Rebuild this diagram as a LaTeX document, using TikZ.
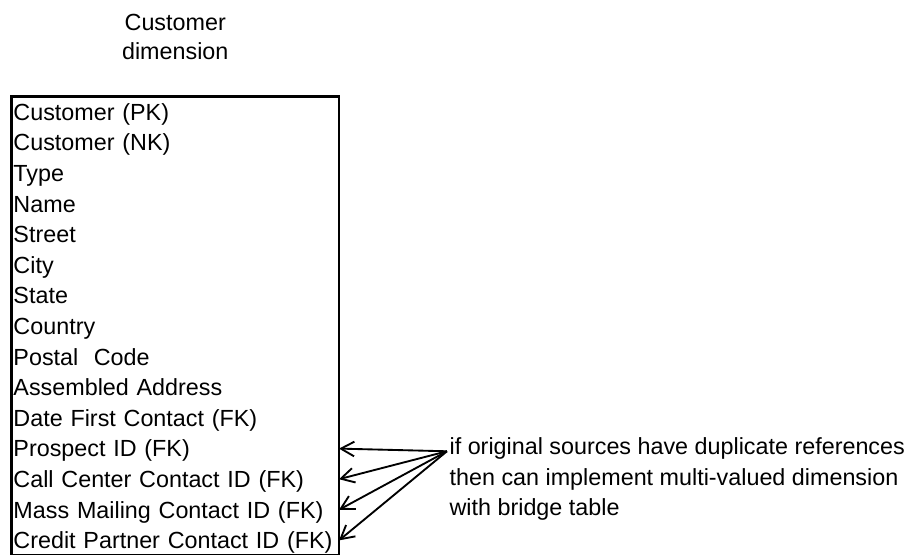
\documentclass[tikz,border=0pt]{standalone}
\usepackage{fontspec}
\setmainfont{Liberation Sans}
\usetikzlibrary{arrows.meta,positioning,fit}

\begin{document}
\begin{tikzpicture}[
    x=0.75pt, y=-0.75pt,
    node distance=0pt,
    every node/.style={outer sep=0pt},
    field/.style={inner xsep=1.5pt, inner ysep=0pt, text width=242.6pt, align=left, text height=17.7pt, text depth=5.25pt, font=\fontsize{17.5}{23}\selectfont},
    entity/.style={draw, line width=2pt, inner sep=0pt},
    title/.style={align=center, inner sep=0pt, font=\fontsize{17.5}{21.75}\selectfont},
    note/.style={align=left, inner sep=0pt, font=\fontsize{17.5}{23}\selectfont},
    arrow/.style={-{Straight Barb[length=10pt, width=11pt]}, line width=1.4pt}
]
\useasboundingbox (0,0) rectangle (918,554);
\clip (0,0) rectangle (918,554);
% fields of the dimension table
\node[field, anchor=north west] (pk) at (11.5,96.7) {Customer (PK)};
\node[field, below=of pk] (nk) {Customer (NK)};
\node[field, below=of nk] (type) {Type};
\node[field, below=of type] (name) {Name};
\node[field, below=of name] (street) {Street};
\node[field, below=of street] (city) {City};
\node[field, below=of city] (state) {State};
\node[field, below=of state] (country) {Country};
\node[field, below=of country] (postal) {Postal\ \ Code};
\node[field, below=of postal] (address) {Assembled Address};
\node[field, below=of address] (firstcontact) {Date First Contact (FK)};
\node[field, below=of firstcontact] (prospect) {Prospect ID (FK)};
\node[field, below=of prospect] (callcenter) {Call Center Contact ID (FK)};
\node[field, below=of callcenter] (mailing) {Mass Mailing Contact ID (FK)};
\node[field, below=of mailing] (partner) {Credit Partner Contact ID (FK)};
\node[entity, fit=(pk)(partner)] (customer) {};
\node[title, above=28pt of customer] (caption) {Customer\\dimension};
% remark on the source IDs
\node[note, anchor=west, right=83pt of callcenter] (remark) {if original sources have duplicate references\\then can implement multi-valued dimension\\with bridge table};
\coordinate (src) at ([xshift=-2pt, yshift=-2pt]remark.west |- prospect);
\draw[arrow] (src) -- (prospect.east);
\draw[arrow] (src) -- (callcenter.east);
\draw[arrow] (src) -- (mailing.east);
\draw[arrow] (src) -- (partner.east);
\end{tikzpicture}
\end{document}
